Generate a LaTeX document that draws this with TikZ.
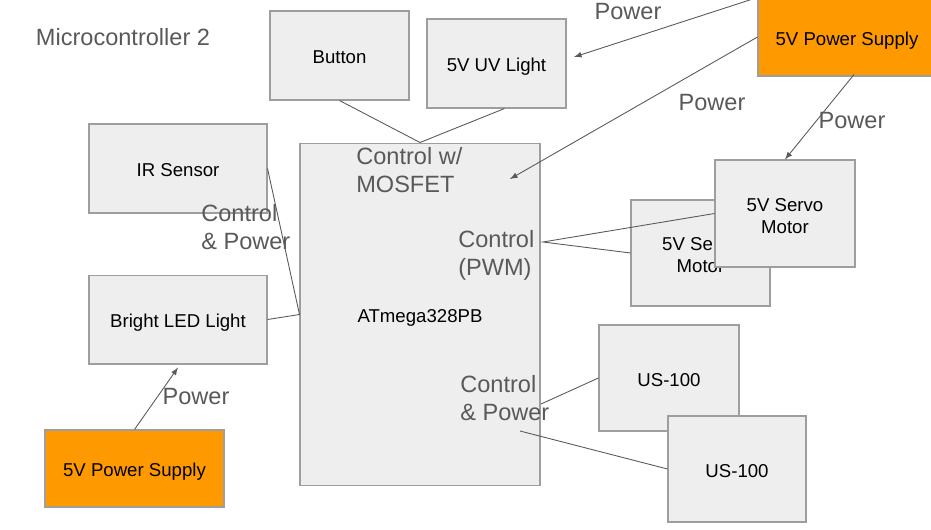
\documentclass[tikz,border=0pt]{standalone}
\usepackage{fontspec}
\setmainfont{Liberation Sans}
\usetikzlibrary{positioning,calc}
\definecolor{cBox}{HTML}{EEEEEE}
\definecolor{cEdge}{HTML}{9E9E9E}
\definecolor{cSupply}{HTML}{FF9900}
\definecolor{cText}{HTML}{595959}
\tikzset{mybox/.style={
  shape=rectangle,
  draw=cEdge,
  fill=cBox,
  line width=0.6pt,
  align=center,
  text height=0.95em,
  text depth=0pt,
  font=\fontsize{10.6}{12.5}\selectfont,
  text=black,
  }
}
\tikzset{mybox2/.style={
  mybox,
  text height=22.6pt,
  }
}
\tikzset{mysupply/.style={
  mybox,
  fill=cSupply,
  }
}
\tikzset{mylabel/.style={
  anchor=north west,
  align=left,
  inner sep=0pt,
  text=cText,
  font=\fontsize{13.4}{16}\selectfont,
  }
}
\tikzset{mywire/.style={draw=cText, line width=0.5pt}}
\tikzset{mypower/.style={mywire, -latex}}

\begin{document}
\begin{tikzpicture}[x=0.02cm, y=-0.02cm]
  \useasboundingbox (0,0) rectangle (931,530);

  \node [mylabel, anchor=center] (title) at (123,37) {Microcontroller 2};

  \node [mybox, minimum width=2.78cm, minimum height=1.78cm] (button) at (339.5,55.5) {Button};
  \node [mybox, minimum width=2.78cm, minimum height=1.78cm] (uv) at (496.5,63.5) {5V UV Light};
  \node [mysupply, minimum width=3.56cm, minimum height=1.56cm] (supA) at (847,37) {5V Power Supply};
  \node [mybox, minimum width=3.56cm, minimum height=1.78cm] (ir) at (178,168.5) {IR Sensor};
  \node [mybox, minimum width=3.56cm, minimum height=1.78cm, below=1.22cm of ir] (led) {Bright LED Light};
  \node [mysupply, minimum width=3.58cm, minimum height=1.54cm] (supB) at (134.5,468.5) {5V Power Supply};
  \node [mybox, minimum width=4.8cm, minimum height=6.86cm] (mcu) at (420,314.5) {ATmega328PB};

  \node [mybox2, minimum width=2.78cm, minimum height=2.12cm] (servoB) at (700.5,253) {5V Servo\\Motor};
  \node [mybox2, minimum width=2.8cm, minimum height=2.14cm] (servoA) at (785,213.5) {5V Servo\\Motor};
  \node [mybox, minimum width=2.8cm, minimum height=2.12cm] (usA) at (669,378) {US-100};
  \node [mybox, minimum width=2.76cm, minimum height=2.12cm] (usB) at (737,469) {US-100};

  % labels
  \node [mylabel] (lmos) at (356,147) {Control w/\\MOSFET};
  \node [mylabel] (lpwm) at (458,230) {Control\\(PWM)};
  \node [mylabel] (lus) at (460,375) {Control\\\& Power};
  \node [mylabel] (lin) at (201,204) {Control\\\& Power};
  \node [mylabel, anchor=center] (p1) at (628,12) {Power};
  \node [mylabel, anchor=center] (p2) at (712,103) {Power};
  \node [mylabel, anchor=center] (p3) at (852,121) {Power};
  \node [mylabel, anchor=center] (p4) at (196,397) {Power};

  \coordinate (uvin) at (574,57);
  \coordinate (mosin) at (510,179);
  \coordinate (pwm) at (543,242);
  \coordinate (usoutA) at (541,404);
  \coordinate (usoutB) at (520,431);

  \draw [mywire] (button.south) -- (mcu.north) -- ($(uv.south)+(8,0)$);
  \draw [mywire] (ir.east) -- (mcu.west) -- (led.east);
  \draw [mywire] (servoA.west) -- (pwm) -- (servoB.west);
  \draw [mywire] (usoutA) -- (usA.west);
  \draw [mywire] (usoutB) -- (usB.west);

  \draw [mypower] (supA.north west) -- (uvin);
  \draw [mypower] (supA.west) -- (mosin);
  \draw [mypower] ($(supA.south)+(7,-2)$) -- (servoA.north);
  \draw [mypower] (supB.north) -- ($(led.south)+(0,3)$);
\end{tikzpicture}
\end{document}
